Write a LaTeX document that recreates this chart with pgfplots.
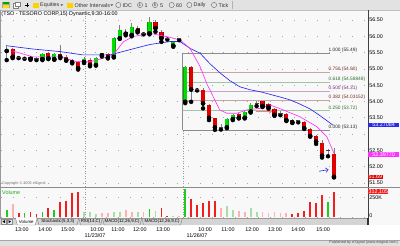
\documentclass[border=0pt]{standalone}
\usepackage{pgfplots}
\pgfplotsset{compat=1.18}
\usepackage{pgfplotstable}
\usepackage{fontspec}
\setmainfont{Liberation Sans}
\usetikzlibrary{arrows.meta}

\definecolor{panebg}{HTML}{F8F8F8}
\definecolor{toolbg}{HTML}{E2E2E2}
\definecolor{cgreen}{HTML}{00DD00}
\definecolor{cred}{HTML}{E00000}
\definecolor{wick}{HTML}{808080}
\definecolor{mablue}{HTML}{2A2AEE}
\definecolor{mamag}{HTML}{FF33FF}
\definecolor{vgreen}{HTML}{1ECC1E}
\definecolor{vred}{HTML}{F01E1E}
\definecolor{vpgreen}{HTML}{A6DEA6}
\definecolor{vpred}{HTML}{FFB0B0}
\definecolor{fibgray}{HTML}{8C8C8C}
\definecolor{fibbrown}{HTML}{C8A4A4}
\definecolor{fibgreen}{HTML}{A4C4A4}
\definecolor{fibpurple}{HTML}{C8A4C8}
\definecolor{lblbrown}{HTML}{7A2E2E}
\definecolor{lblgreen}{HTML}{2E6E2E}
\definecolor{lblpurple}{HTML}{7A2E7A}
\definecolor{pinkarrow}{HTML}{FF7A7A}

\newcommand{\sfs}{\fontsize{5.4}{6}\selectfont}
\newcommand{\sfm}{\fontsize{4.8}{5.2}\selectfont}
\newcommand{\sfx}{\fontsize{4.4}{5}\selectfont}
\newcommand{\sfxx}{\fontsize{3.8}{4}\selectfont}

\pgfplotstableread{
i o h l c
0 55.55 55.73 55.27 55.59
6 55.30 55.48 55.27 55.45
8 55.30 55.48 55.28 55.45
13 55.21 55.36 55.18 55.30
15 55.12 55.36 55.10 55.33
16 55.42 55.50 55.38 55.48
18 55.37 55.99 55.35 55.94
19 55.94 56.35 55.92 56.19
21 56.04 56.40 56.00 56.29
24 56.09 56.60 56.06 56.45
28 55.71 55.86 55.68 55.83
30 53.99 55.10 53.95 55.05
37 53.21 53.48 53.18 53.45
38 53.46 53.63 53.43 53.59
40 53.50 53.72 53.48 53.69
41 53.69 53.95 53.66 53.89
}\upcandles

\pgfplotstableread{
i o h l c
1 55.60 55.64 55.33 55.37
4 55.37 55.40 55.28 55.31
7 55.48 55.52 55.30 55.33
9 55.45 55.72 55.33 55.37
10 55.38 55.42 55.25 55.27
11 55.27 55.30 55.17 55.20
12 55.22 55.25 54.98 55.02
14 55.27 55.33 55.08 55.12
17 55.45 55.50 55.32 55.35
20 56.14 56.22 56.03 56.08
22 56.25 56.32 56.12 56.17
25 56.45 56.50 56.14 56.25
26 56.14 56.18 55.83 55.94
31 55.07 55.10 53.99 54.37
33 54.35 54.40 53.79 53.94
34 53.89 53.92 53.43 53.50
35 53.48 53.50 53.13 53.21
39 53.61 53.64 53.48 53.50
43 54.00 54.03 53.83 53.86
44 53.92 53.95 53.78 53.82
45 53.77 53.80 53.56 53.59
47 53.61 53.64 53.40 53.43
48 53.43 53.46 53.34 53.36
50 53.36 53.40 53.16 53.18
51 53.15 53.18 52.92 52.94
52 52.94 52.97 52.70 52.77
53 52.72 52.82 52.28 52.34
55 52.38 52.56 51.67 51.69
}\downcandles

\pgfplotstableread{
i o h l c
2 55.36 55.38 55.33 55.36
3 55.33 55.35 55.31 55.33
5 55.31 55.36 55.27 55.31
23 56.09 56.12 56.06 56.09
27 55.92 55.95 55.90 55.92
29 55.92 55.95 55.88 55.92
32 54.37 54.40 54.34 54.37
36 53.21 53.30 53.14 53.21
42 53.93 54.00 53.86 53.93
46 53.64 53.70 53.58 53.64
49 53.41 53.44 53.36 53.41
54 52.51 52.55 52.32 52.51
}\dojis

\begin{document}
\begin{tikzpicture}[font=\sfs]
\path[use as bounding box] (0pt,0pt) rectangle (400pt,-246pt);
\begin{scope}[x=1pt,y=-1pt,every node/.style={inner sep=0.5pt}]
  \fill[panebg] (0,0) rectangle (400,246);
  \fill[white] (0,225) rectangle (400,240);
  % toolbar
  \fill[toolbg] (0,0) rectangle (400,10);
  \draw[black!25,line width=0.4pt] (0,10) -- (400,10);
  \draw[black!30,line width=0.4pt] (232,1) -- (232,9);
  \fill[gray!70] (2,1.8) rectangle (10,8.2);
  \fill[green!65!black] (2.6,2.4) rectangle (9.4,4.2);
  \fill[yellow!80!orange] (2.6,5) rectangle (9.4,7.6);
  \draw[gray,line width=0.4pt,fill=white] (13,3) rectangle (18.5,8);
  \draw[gray,line width=0.4pt,fill=white] (15,1.8) rectangle (20,6);
  \draw[black,line width=0.7pt] (25,5) -- (29,5) (27,3) -- (27,7);
  \fill[yellow!70!orange] (33,3.2) rectangle (38.5,7.8);
  \node[anchor=west,text=black!80] at (39.5,5.2) {Equities};
  \fill[black!70] (60.5,4.5) -- (63,4.5) -- (61.75,5.8) -- cycle;
  \fill[yellow!70!orange] (67,3.2) rectangle (72.5,7.8);
  \node[anchor=west,text=black!80] at (74,5.2) {Other Intervals};
  \fill[black!70] (110.5,4.5) -- (113,4.5) -- (111.75,5.8) -- cycle;
  \draw[black!60,line width=0.4pt] (118.3,5) circle (2.6);
  \node[anchor=west,text=black!80] at (122,5.2) {IDC};
  \draw[black!60,line width=0.4pt] (140,5) circle (2.6);
  \node[font=\sfxx] at (140,5) {1};
  \node[anchor=west,text=black!80] at (144,5.2) {1};
  \draw[black!60,line width=0.4pt] (155,5) circle (2.6);
  \node[font=\sfxx] at (155,5) {5};
  \node[anchor=west,text=black!80] at (159.5,5.2) {5};
  \draw[black!60,line width=0.4pt] (171.7,5) circle (2.6);
  \node[anchor=west,text=black!80] at (175.5,5.2) {60};
  \draw[black!60,line width=0.4pt] (189.3,5) circle (2.6);
  \node[anchor=west,text=black!80] at (193,5.2) {Daily};
  \draw[black!60,line width=0.4pt] (214,5) circle (2.6);
  \node[anchor=west,text=black!80] at (218,5.2) {Tick};
  % title and frame
  \node[anchor=west] at (0.8,14) {(TSO - TESORO CORP,15) Dynamic,9:30-16:00};
  \draw[black!40,line width=0.5pt] (0.5,10) -- (0.5,225);
  \draw[black!45,line width=0.5pt] (0,187) -- (400,187);
  \node[anchor=west,text=black!55,font=\sfxx] at (1.5,183.6) {Copyright \textcopyright{} 2005 eSignal};
  \node[anchor=west,text=vgreen!85!black] at (1.5,192.2) {Volume};
\end{scope}

% ---------------- main price pane ----------------
\begin{axis}[
  at={(1pt,-10pt)}, anchor=north west, scale only axis,
  width=367pt, height=177pt,
  xmin=-0.958, xmax=60.72, ymin=51.377, ymax=56.807,
  axis x line=none, axis y line*=right,
  y axis line style={draw=black!75, line width=0.6pt},
  ytick={51.5,52,52.5,53,53.5,54,54.5,55,55.5,56,56.5},
  yticklabels={51.50,52.00,52.50,,53.50,54.00,54.50,55.00,55.50,56.00,56.50},
  major tick length=0pt,
  yticklabel style={font=\sfs, anchor=west, inner sep=1.2pt, text=black},
  ymajorgrids,
  grid style={draw=black!35, line width=0.7pt, dash pattern=on 0.7pt off 11pt},
  clip=false,
]
% day separators
\addplot[black!40, line width=0.4pt, dash pattern=on 1pt off 1.5pt, forget plot] coordinates {(13.16,51.377) (13.16,56.807)};
\addplot[black!40, line width=0.4pt, dash pattern=on 1pt off 1.5pt, forget plot] coordinates {(29.58,51.377) (29.58,53.13)};
% fibonacci bracket
\addplot[fibgray, line width=0.6pt, forget plot] coordinates {(29.58,55.49) (29.58,53.13)};
\addplot[fibgray, line width=0.6pt, forget plot] coordinates {(29.58,55.49) (54.3,55.49)};
\addplot[fibbrown, line width=0.6pt, forget plot] coordinates {(29.58,54.90) (54.3,54.90)};
\addplot[fibgreen, line width=0.6pt, forget plot] coordinates {(29.58,54.58848) (54.3,54.58848)};
\addplot[fibpurple, line width=0.6pt, forget plot] coordinates {(29.58,54.31) (54.3,54.31)};
\addplot[fibbrown, line width=0.6pt, forget plot] coordinates {(29.58,54.03152) (54.3,54.03152)};
\addplot[fibgreen, line width=0.6pt, forget plot] coordinates {(29.58,53.72) (54.3,53.72)};
\addplot[fibgray, line width=0.6pt, forget plot] coordinates {(29.58,53.13) (54.3,53.13)};
\node[anchor=south west, font=\sfm, text=black!85, inner sep=0.4pt] at (axis cs:54.0,55.49) {1.000 (55.49)};
\node[anchor=south west, font=\sfm, text=lblbrown, inner sep=0.4pt] at (axis cs:54.0,54.90) {0.750 (54.90)};
\node[anchor=south west, font=\sfm, text=lblgreen, inner sep=0.4pt] at (axis cs:54.0,54.58848) {0.618 (54.58848)};
\node[anchor=south west, font=\sfm, text=lblpurple, inner sep=0.4pt] at (axis cs:54.0,54.31) {0.500 (54.31)};
\node[anchor=south west, font=\sfm, text=lblbrown, inner sep=0.4pt] at (axis cs:54.0,54.03152) {0.382 (54.03152)};
\node[anchor=south west, font=\sfm, text=lblgreen, inner sep=0.4pt] at (axis cs:54.0,53.72) {0.250 (53.72)};
\node[anchor=south west, font=\sfm, text=black!85, inner sep=0.4pt] at (axis cs:54.0,53.13) {0.000 (53.13)};
% wicks
\addplot[only marks, mark=none, forget plot, error bars/.cd, y dir=plus, y explicit, error mark=none,
  error bar style={draw=wick, line width=0.6pt}] table[x=i, y=l, y error expr=\thisrow{h}-\thisrow{l}] {\upcandles};
\addplot[only marks, mark=none, forget plot, error bars/.cd, y dir=plus, y explicit, error mark=none,
  error bar style={draw=wick, line width=0.6pt}] table[x=i, y=l, y error expr=\thisrow{h}-\thisrow{l}] {\downcandles};
\addplot[only marks, mark=none, forget plot, error bars/.cd, y dir=plus, y explicit, error mark=none,
  error bar style={draw=wick, line width=0.6pt}] table[x=i, y=l, y error expr=\thisrow{h}-\thisrow{l}] {\dojis};
% bodies
\addplot[only marks, mark=none, forget plot, error bars/.cd, y dir=plus, y explicit, error mark=none,
  error bar style={draw=cgreen!75!black, line width=4.2pt}] table[x=i, y=o, y error expr=\thisrow{c}-\thisrow{o}] {\upcandles};
\addplot[only marks, mark=none, forget plot, error bars/.cd, y dir=plus, y explicit, error mark=none,
  error bar style={draw=cgreen, line width=3.2pt}] table[x=i, y=o, y error expr=\thisrow{c}-\thisrow{o}] {\upcandles};
\addplot[only marks, mark=none, forget plot, error bars/.cd, y dir=plus, y explicit, error mark=none,
  error bar style={draw=cred!70!black, line width=4.2pt}] table[x=i, y=c, y error expr=\thisrow{o}-\thisrow{c}] {\downcandles};
\addplot[only marks, mark=none, forget plot, error bars/.cd, y dir=plus, y explicit, error mark=none,
  error bar style={draw=cred, line width=3.2pt}] table[x=i, y=c, y error expr=\thisrow{o}-\thisrow{c}] {\downcandles};
\addplot[only marks, mark=-, mark size=2.1pt, mark options={line width=0.9pt, draw=black!75}, forget plot] table[x=i, y=c] {\dojis};
% moving averages
\addplot[mablue, line width=0.65pt, forget plot] coordinates {
(0,55.71) (4.4,55.61) (9,55.53) (12.8,55.43) (17.4,55.43) (20.7,55.59) (24.1,55.75) (27.5,55.84)
(29.1,55.84) (30.8,55.63) (32.5,55.48) (34.2,55.15) (35.9,54.87) (37.5,54.64) (39.2,54.45)
(40.9,54.36) (42.6,54.30) (45.9,54.14) (47.6,54.05) (49.3,53.92) (51,53.77) (52.7,53.56) (54.8,53.28)};
\addplot[mamag, line width=0.65pt, forget plot] coordinates {
(1,55.55) (4.4,55.37) (9,55.37) (11.8,55.22) (14,55.22) (15.7,55.30) (17.9,55.43) (19.6,55.83)
(21.2,55.99) (24.1,56.09) (26.9,55.99) (29.1,55.89) (30.8,55.63) (32.5,55.07) (33.6,54.56)
(34.7,54.15) (35.8,53.74) (37,53.64) (38.7,53.64) (40.3,53.74) (42.6,53.79) (44.3,53.89)
(46.5,53.74) (49.3,53.53) (52.1,53.23) (53.8,52.92) (55,52.41)};
% annotation arrows
\draw[pinkarrow, line width=1.1pt, -{Stealth[length=3.2pt,width=4.5pt]}] (axis cs:41.9,53.69) -- (axis cs:44.6,53.69);
\draw[mablue, line width=0.6pt, -{Straight Barb[length=2.5pt,width=4.5pt]}] (axis cs:52.5,51.86) -- (axis cs:54.1,51.91);
% last value boxes
\node[anchor=west, fill=mablue, text=white, font=\sfs, inner sep=0.4pt, minimum width=31pt] at (axis cs:60.72,53.279) {53.27084};
\node[anchor=west, fill=mamag, text=white, font=\sfs, inner sep=0.4pt, minimum width=31pt] at (axis cs:60.72,52.37) {52.39770};
\node[anchor=west, fill=cred, text=white, font=\sfs, inner sep=0.4pt] at (axis cs:60.72,51.685) {51.69};
\end{axis}

% ---------------- volume pane ----------------
\begin{axis}[
  at={(1pt,-188pt)}, anchor=north west, scale only axis,
  width=367pt, height=30pt,
  xmin=-0.958, xmax=60.72, ymin=-8.7, ymax=365.7,
  axis x line*=bottom, axis y line*=right,
  x axis line style={draw=none},
  y axis line style={draw=black!75, line width=0.6pt},
  ytick={250}, yticklabels={250K},
  extra y ticks={0}, extra y tick labels={0},
  extra y tick style={yticklabel style={yshift=2pt}},
  major tick length=0pt,
  yticklabel style={font=\sfs, anchor=west, inner sep=1.2pt},
  xtick={2.57,6.44,10.30,15.18,18.71,22.40,26.27,33.33,37.19,41.23,45.09,48.96,53.16},
  xticklabels={13:00,14:00,15:00,10:00,11:00,12:00,13:00,10:00,11:00,12:00,13:00,14:00,15:00},
  xticklabel style={font=\sfs, anchor=center, yshift=-11.5pt},
  ymajorgrids,
  grid style={draw=black!35, line width=0.7pt, dash pattern=on 0.7pt off 11pt},
  clip=false,
]
\addplot[black!40, line width=0.4pt, dash pattern=on 1pt off 1.5pt, forget plot] coordinates {(13.16,-8.7) (13.16,365.7)};
\addplot[black!40, line width=0.4pt, dash pattern=on 1pt off 1.5pt, forget plot] coordinates {(29.58,-8.7) (29.58,365.7)};
\addplot[ycomb, draw=vgreen, line width=1.8pt, forget plot] coordinates {
(0,91) (3,50) (6,70) (8,91) (24,100) (30,350) (54,187)};
\addplot[ycomb, draw=vred, line width=1.8pt, forget plot] coordinates {
(2,50) (4,66) (5,40) (7,112) (9,195) (10,207) (11,307) (12,320) (26,120) (27,10)
(31,225) (32,153) (33,182) (34,207) (35,200) (48,46) (49,50) (50,83) (51,187) (52,175) (53,278) (55,312)};
\addplot[ycomb, draw=vpgreen, line width=1.8pt, forget plot] coordinates {
(13,70) (14,62) (15,37) (18,62) (19,70) (22,60) (25,83) (28,20) (37,145) (38,91) (41,112) (42,70)};
\addplot[ycomb, draw=vpred, line width=1.8pt, forget plot] coordinates {
(1,166) (16,50) (17,57) (20,91) (21,70) (23,62) (29,10) (36,120) (39,83) (40,70)
(43,62) (44,50) (45,62) (46,50) (47,50)};
\node[anchor=west, fill=vred, text=white, font=\sfs, inner sep=0.3pt] at (axis cs:60.72,318) {312,105};
\end{axis}

% ---------------- overlays: tabs, dates, status bar ----------------
\begin{scope}[x=1pt,y=-1pt,every node/.style={inner sep=0.5pt}]
  \fill[black!17] (0,218) rectangle (368,225);
  \draw[black!40,line width=0.4pt] (0,218) -- (368,218);
  \draw[black!45,line width=0.4pt,fill=black!8] (1,218.8) rectangle (6.5,224.4);
  \fill[black] (2.4,221.6) -- (5,220.1) -- (5,223.1) -- cycle;
  \draw[black!45,line width=0.4pt,fill=black!8] (7,218.8) rectangle (12.5,224.4);
  \fill[black] (11.1,221.6) -- (8.5,220.1) -- (8.5,223.1) -- cycle;
  \draw[black!50,line width=0.4pt,fill=white] (15.5,218) -- (17.3,225) -- (35.3,225) -- (37.1,218);
  \node[font=\sfx] at (26.3,221.5) {Volume};
  \draw[black!50,line width=0.4pt] (37.1,218) -- (38.9,225) -- (77,225) -- (78.8,218);
  \node[font=\sfx] at (57.9,221.5) {Stochastic(5,3,3)};
  \draw[black!50,line width=0.4pt] (78.8,218) -- (80.6,225) -- (100.6,225) -- (102.4,218);
  \node[font=\sfx] at (90.6,221.5) {RSI(14,C)};
  \draw[black!50,line width=0.4pt] (102.4,218) -- (104.2,225) -- (140,225) -- (141.8,218);
  \node[font=\sfx] at (122.1,221.5) {MACD(12,26,9,C)};
  \draw[black!50,line width=0.4pt] (141.8,218) -- (143.6,225) -- (180.6,225) -- (182.4,218);
  \node[font=\sfx] at (162.1,221.5) {MACD(12,26,9,C)};
  \draw[black!80,line width=1.2pt] (368,218) -- (368,225);
  \node at (95,235.3) {11/23/07};
  \node at (197,235.3) {11/26/07};
  \fill[black!12] (0,240) rectangle (400,246);
  \draw[black!35,line width=0.4pt] (0,240) -- (400,240);
  \node[anchor=east,font=\sfxx,text=black!70] at (398.5,243) {Published by eSignal (www.esignal.com)};
\end{scope}
\end{tikzpicture}
\end{document}
